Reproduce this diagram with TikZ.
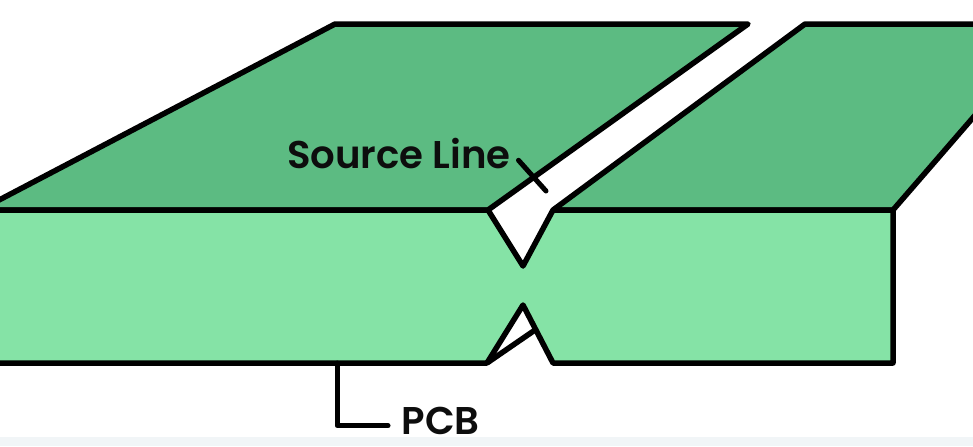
\documentclass[tikz,border=0pt]{standalone}
\usepackage{fontspec}
\setmainfont{Poppins}[BoldFont={Poppins SemiBold}]
\usepackage{tikz}
\tikzset{
  outline/.style={line width=0.055cm, line join=round, draw=black},
  leader/.style={line width=0.05cm, line cap=round, line join=round, draw=black},
  label/.style={font=\bfseries\fontsize{11pt}{11pt}\selectfont, text=black!95, inner ysep=0.07cm},
}
\definecolor{plategreen}{HTML}{5CBB82}
\definecolor{frontgreen}{HTML}{85E3A6}
\definecolor{stripgray}{HTML}{F1F5F7}

\begin{document}
\begin{tikzpicture}
    \useasboundingbox (0, 0) rectangle (9.73, 4.46);
    \clip (0, 0) rectangle (9.73, 4.46);
    \fill[stripgray] (0, 0) rectangle (9.73, 0.09);

    % top faces
    \draw[outline, fill=plategreen] (-0.2, 2.36) -- (3.35, 4.22) -- (7.48, 4.22) -- (4.88, 2.36) -- cycle;
    \draw[outline, fill=plategreen] (5.53, 2.36) -- (8.05, 4.22) -- (9.9, 4.22) -- (9.9, 3.48) -- (8.93, 2.36) -- cycle;

    % front face with the two notches
    \fill[frontgreen] (-0.2, 2.36) -- (4.88, 2.36) -- (5.23, 1.80) -- (5.53, 2.36) -- (8.93, 2.36) -- (8.93, 0.83) -- (5.53, 0.83) -- (5.23, 1.41) -- (4.87, 0.83) -- (-0.2, 0.83) -- cycle;
    \draw[outline] (-0.2, 2.36) -- (4.88, 2.36) -- (5.23, 1.80) -- (5.53, 2.36) -- (8.93, 2.36) -- (8.93, 0.83) -- (5.53, 0.83) -- (5.23, 1.41) -- (4.87, 0.83) -- (-0.2, 0.83);
    \draw[outline] (4.87, 0.83) -- (5.35, 1.16);

    % labels
    \node[label, inner xsep=0.07cm] (source_label) at (3.99, 2.92) {Source Line};
    \node[label, inner xsep=0.13cm, anchor=west] (pcb_label) at (3.88, 0.25) {PCB};

    \coordinate (source_tip) at (5.46, 2.55);
    \coordinate (pcb_tip) at (3.37, 0.83);

    \draw[leader] (source_label.-3.5) -- (source_tip);
    \draw[leader] (pcb_tip) |- (pcb_label.185);
\end{tikzpicture}
\end{document}
